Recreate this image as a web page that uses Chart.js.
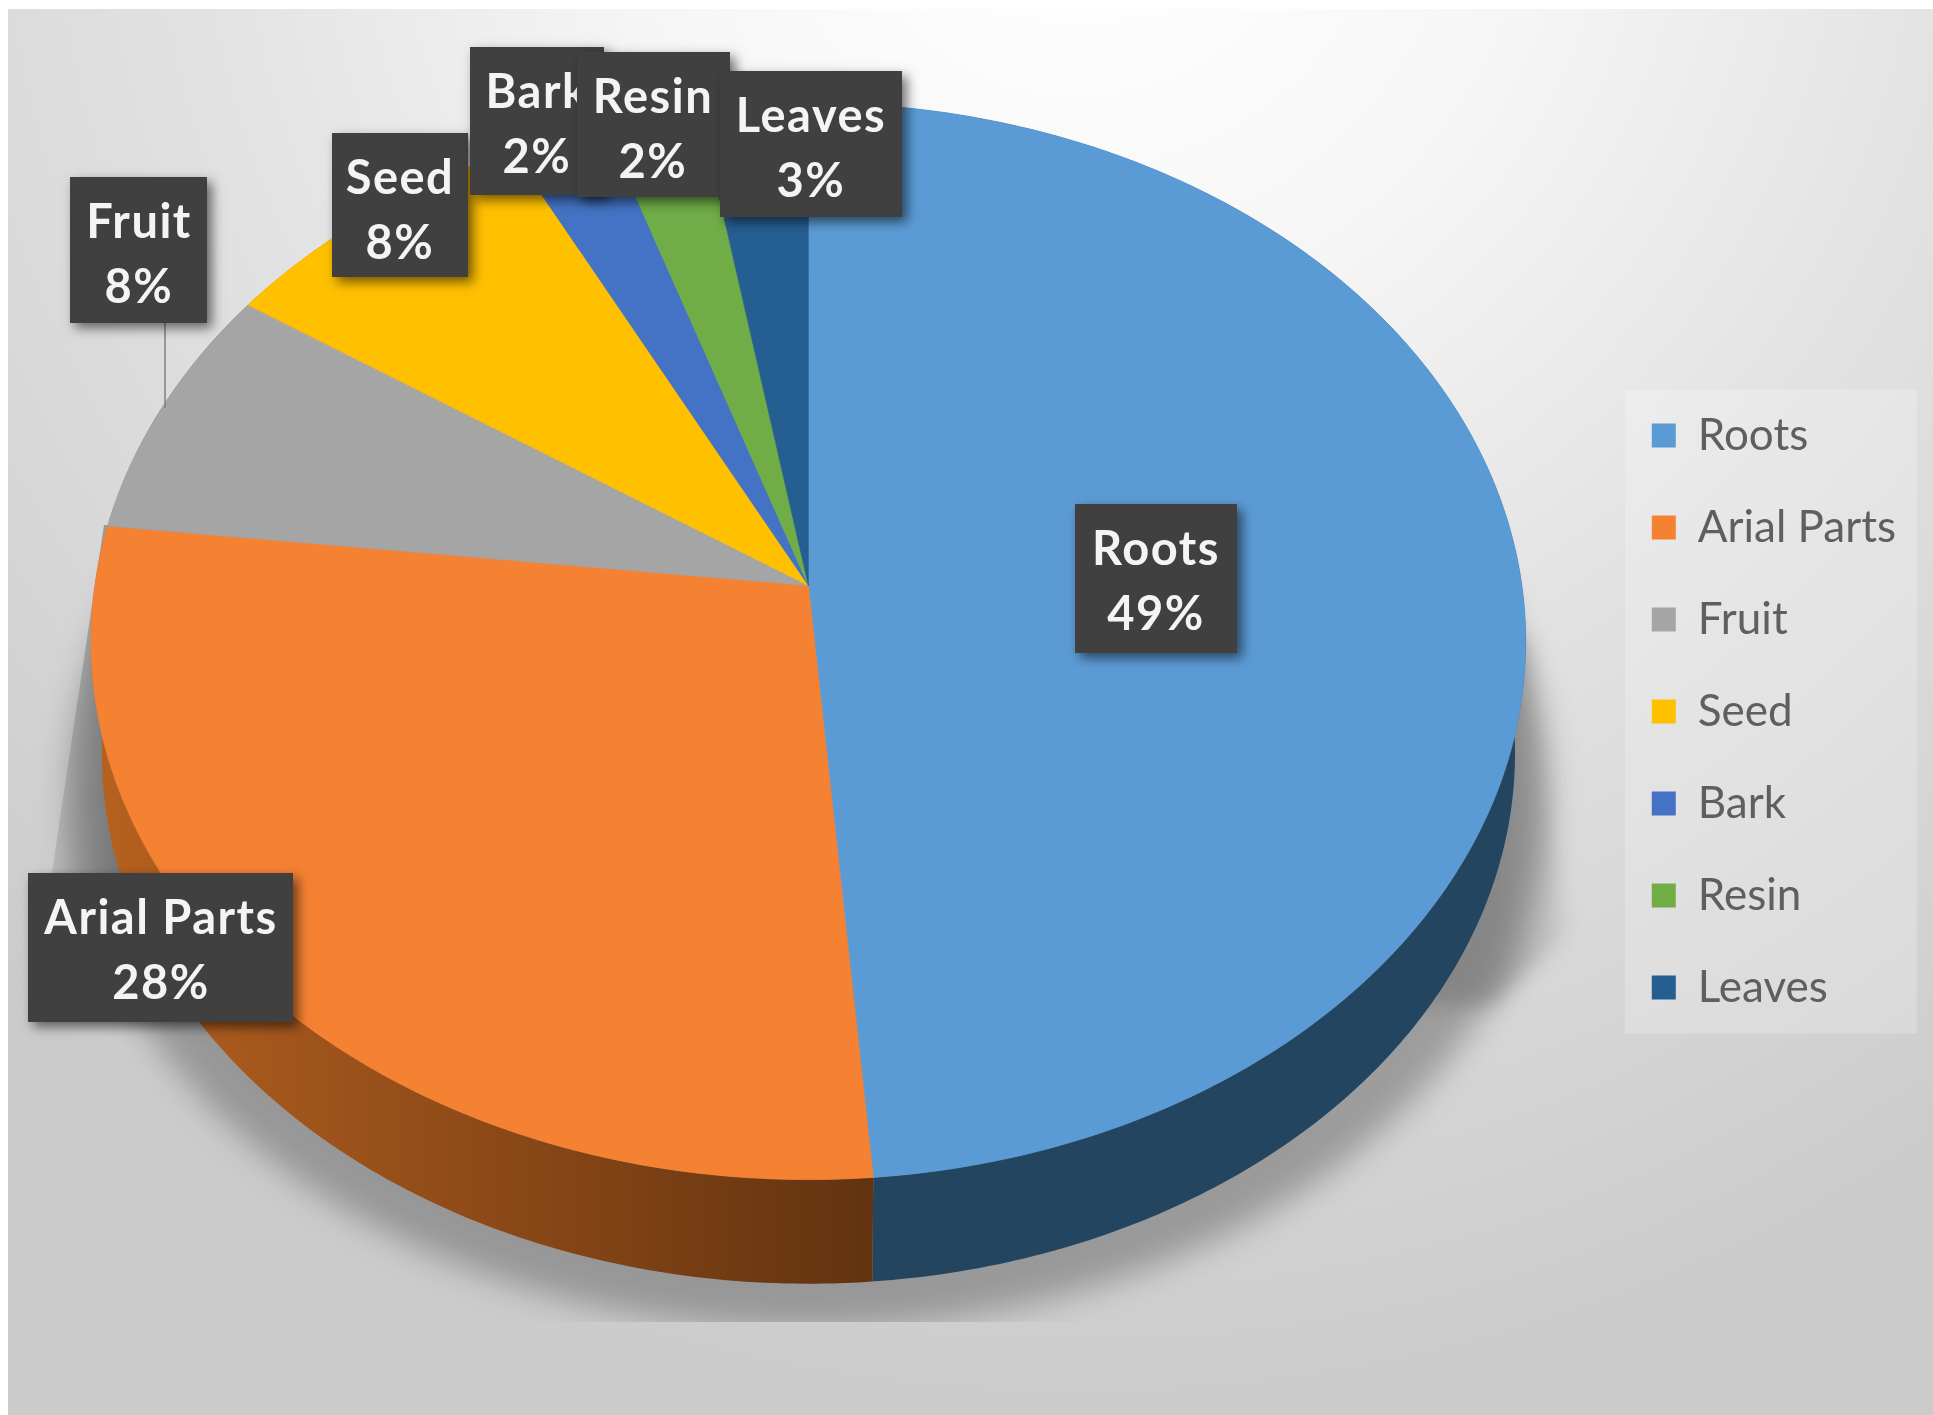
<!DOCTYPE html>
<html><head><meta charset="utf-8">
<style>html,body{margin:0;padding:0;background:#fff}#w{width:1933px;height:1415px}canvas{display:block;filter:blur(0.7px)}</style>
<script src="https://cdn.jsdelivr.net/npm/chart.js@4"></script>
</head><body><div id="w"><canvas id="c"></canvas></div>
<script>
const categories = ['Roots','Arial Parts','Fruit','Seed','Bark','Resin','Leaves'];
const shares = [48.7,28.1,7.6,8.1,2.4,2.4,2.7];
const colours = ['#5B9BD5','#F58132','#A5A5A5','#FFC000','#4472C4','#70AD47','#255E91'];
const rimStart = ['#234560','#B5601F','#6b6b6b','#a08000','#2a4a80','#4a7a30','#1a4060'];
const rimEnd = ['#234560','#633310','#6b6b6b','#a08000','#2a4a80','#4a7a30','#1a4060'];
// label boxes: left, top, right, bottom (drawing order keeps Resin over Bark)
const labelBoxes = [[1075,504,1237,653],[28,873,293,1022],[70,177,207,323],[332,133,468,277],[470,47,604,195],[577,52,730,197],[720,71,902,217]];
const labelCentres = [1156,161,139,400,537,653,811];

const TILT = -0.1034, SX = 711/701, SY = 530.8/701, DX = 6.5, DY = -126;
const RIM_X = 0.985, RIM_Y = 0.985, RIM_DROP = 113;

function project(arc, a){
  const R = arc.outerRadius, d = 1 + TILT*Math.sin(a);
  return [SX*R*Math.cos(a)/d, SY*R*Math.sin(a)/d];
}
function topPt(arc,a){const p=project(arc,a);return [arc.x+DX+p[0],arc.y+DY+p[1]];}
function rimPt(arc,a){const p=project(arc,a);return [arc.x+DX+p[0]*RIM_X,arc.y+DY+p[1]*RIM_Y+RIM_DROP];}
function steps(arc){return Math.max(4,Math.ceil((arc.endAngle-arc.startAngle)*80));}
function angle(arc,i,n){return arc.startAngle+(arc.endAngle-arc.startAngle)*i/n;}

const scene = {
  id:'scene',
  beforeDraw(chart){
    const ctx=chart.ctx;
    ctx.save();
    ctx.fillStyle='#fff';ctx.fillRect(0,0,1933,1415);
    const g=ctx.createRadialGradient(1080,-140,80,1080,-140,1560);
    g.addColorStop(0,'#ffffff');g.addColorStop(.25,'#f6f6f6');g.addColorStop(.55,'#e2e2e2');g.addColorStop(1,'#cbcbcb');
    ctx.fillStyle=g;ctx.fillRect(8,9,1925,1406);
    // legend panel
    const lg=chart.legend,hb=lg.legendHitBoxes;
    ctx.fillStyle='rgba(255,255,255,0.22)';
    const t=hb[0].top-24,b=hb[hb.length-1].top+hb[hb.length-1].height+24;
    ctx.fillRect(1625,t,292,b-t);
    ctx.restore();
  },
  beforeDatasetDraw(chart,args){
    const ctx=chart.ctx,arcs=args.meta.data,first=arcs[0];
    // soft shadow
    ctx.save();
    ctx.beginPath();ctx.rect(0,0,1933,1322);ctx.clip();
    ctx.filter='blur(16px)';
    ctx.fillStyle='rgba(70,70,70,0.40)';
    ctx.beginPath();
    for(let i=0;i<=240;i++){const a=i/240*2*Math.PI;const p=project(first,a);
      const x=first.x+DX+p[0]*1.03,y=first.y+DY+p[1]*1.0+RIM_DROP+36;
      i?ctx.lineTo(x,y):ctx.moveTo(x,y);}
    ctx.closePath();ctx.fill();
    ctx.filter='none';
    ctx.restore();
    ctx.save();
    let lw=ctx.createLinearGradient(50,0,125,0);
    lw.addColorStop(0,'rgba(120,120,120,0.22)');lw.addColorStop(1,'rgba(100,100,100,0.7)');
    ctx.fillStyle=lw;ctx.beginPath();ctx.moveTo(104,525);ctx.lineTo(50,885);ctx.lineTo(190,905);ctx.lineTo(190,525);ctx.closePath();ctx.fill();
    ctx.filter='blur(10px)';
    let rw=ctx.createLinearGradient(1500,0,1568,0);
    rw.addColorStop(0,'rgba(110,110,110,0.5)');rw.addColorStop(1,'rgba(120,120,120,0.1)');
    ctx.fillStyle=rw;ctx.beginPath();ctx.moveTo(1524,640);ctx.lineTo(1567,935);ctx.lineTo(1490,1005);ctx.lineTo(1420,1005);ctx.lineTo(1440,640);ctx.closePath();ctx.fill();
    ctx.filter='none';
    ctx.restore();
    // side wall
    arcs.forEach((arc,k)=>{
      const n=steps(arc);
      const g=ctx.createLinearGradient(first.x+DX-700,0,first.x+DX+60,0);
      g.addColorStop(0,rimStart[k]);g.addColorStop(1,rimEnd[k]);
      ctx.fillStyle=g;ctx.beginPath();
      for(let i=0;i<=n;i++){const p=topPt(arc,angle(arc,i,n));i?ctx.lineTo(p[0],p[1]):ctx.moveTo(p[0],p[1]);}
      for(let i=n;i>=0;i--){const p=rimPt(arc,angle(arc,i,n));ctx.lineTo(p[0],p[1]);}
      ctx.closePath();ctx.fill();
    });
    // top face
    arcs.forEach((arc,k)=>{
      const n=steps(arc);
      ctx.fillStyle=colours[k];ctx.strokeStyle=colours[k];ctx.lineWidth=.6;
      ctx.beginPath();ctx.moveTo(arc.x+DX,arc.y+DY);
      for(let i=0;i<=n;i++){const p=topPt(arc,angle(arc,i,n));ctx.lineTo(p[0],p[1]);}
      ctx.closePath();ctx.fill();ctx.stroke();
    });
    return false;
  },
  afterDatasetsDraw(chart){
    const ctx=chart.ctx;
    const total=shares.reduce((a,b)=>a+b,0);
    ctx.save();
    // leader line for Fruit
    ctx.strokeStyle='#7f7f7f';ctx.lineWidth=1.5;
    ctx.beginPath();ctx.moveTo(165,323);ctx.lineTo(165,408);ctx.stroke();
    categories.forEach((name,k)=>{
      const b=labelBoxes[k];
      ctx.save();
      ctx.shadowColor='rgba(0,0,0,0.55)';ctx.shadowBlur=11;ctx.shadowOffsetX=5;ctx.shadowOffsetY=5;
      ctx.fillStyle='#404040';ctx.fillRect(b[0],b[1],b[2]-b[0],b[3]-b[1]);
      ctx.restore();
      ctx.fillStyle='#f4f4f4';ctx.textAlign='center';ctx.textBaseline='middle';
      ctx.font='bold 47px Lato';ctx.letterSpacing='1.5px';
      const top=b[1]+46;
      ctx.fillText(name,labelCentres[k],top);
      ctx.fillText(Math.round(shares[k]/total*100)+'%',labelCentres[k],top+65);
    });
    ctx.restore();
  }
};

new Chart(document.getElementById('c'),{
  type:'pie',
  data:{labels:categories,datasets:[{data:shares,backgroundColor:colours,borderWidth:0}]},
  options:{
    responsive:true,maintainAspectRatio:false,animation:false,
    layout:{padding:{top:8,right:27,bottom:0,left:0}},
    plugins:{
      tooltip:{enabled:false},
      legend:{position:'right',align:'center',
        labels:{boxWidth:24,boxHeight:24,padding:48,color:'#5f5f5f',font:{family:'Lato',size:44}}}
    }
  },
  plugins:[scene]
});
</script></body></html>
